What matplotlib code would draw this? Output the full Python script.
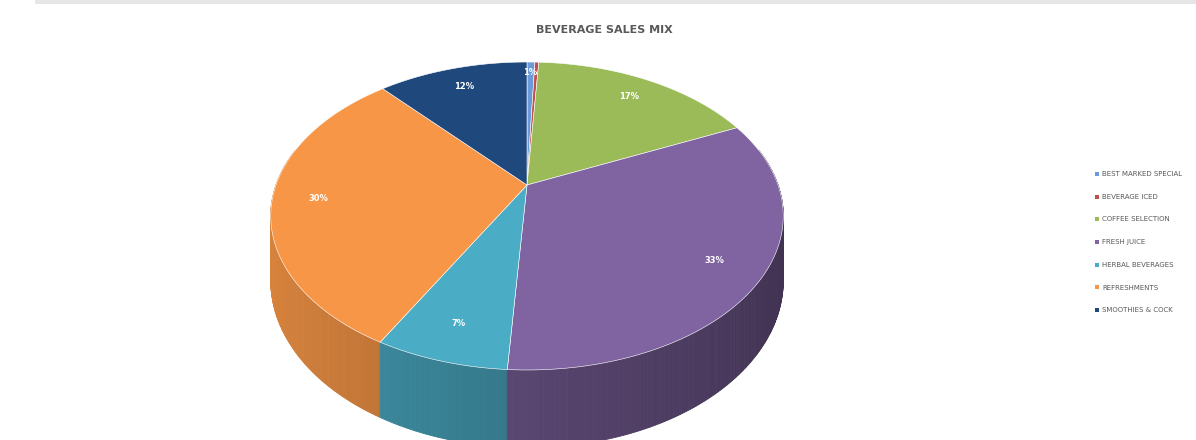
import numpy as np
import matplotlib
matplotlib.use("Agg")
import matplotlib.pyplot as plt
from matplotlib.patches import Polygon, Rectangle
from matplotlib.colors import to_rgb

# data
categories = ["BEST MARKED SPECIAL", "BEVERAGE ICED", "COFFEE SELECTION", "FRESH JUICE",
              "HERBAL BEVERAGES", "REFRESHMENTS", "SMOOTHIES & COCK"]
shares = [0.6, 0.3, 17.2, 32.9, 7.0, 30.5, 11.5]
colors = ["#6a9bd8", "#c0504d", "#9bbb59", "#8064a2", "#4bacc6", "#f79646", "#1f497d"]
title = "BEVERAGE SALES MIX"

# 3d pie geometry in pixel space (projective squash)
cx, R = 527, 251
a, b, c = 110.5, 185.0, -0.2013
depth = 62
narrow = ["Liberation Sans Narrow", "DejaVu Sans"]


def proj(theta, k=1.0):
    u = k * np.sin(theta)
    v = -k * np.cos(theta)
    den = 1 + c * v
    return cx + R * u / den, (a * v + b) / den, v


fig = plt.figure(figsize=(11.96, 4.4), dpi=100)
ax = fig.add_axes([0, 0, 1, 1])
ax.set_xlim(0, 1196)
ax.set_ylim(440, 0)
ax.axis("off")

ax.add_patch(Rectangle((35, 0), 1161, 4, color="#e6e6e6", lw=0))

vals = np.array(shares)
frac = vals / vals.sum()
edges = np.concatenate([[0], np.cumsum(frac)]) * 2 * np.pi

# side walls, drawn as thin strips shaded by position
strips = []
for i in range(len(vals)):
    th = np.linspace(edges[i], edges[i + 1], max(3, int(frac[i] * 720)))
    base = np.array(to_rgb(colors[i]))
    for t0, t1 in zip(th[:-1], th[1:]):
        x0, y0, v0 = proj(t0)
        x1, y1, v1 = proj(t1)
        if (v0 + v1) / 2 < -0.25:
            continue
        d0 = depth / (1 + c * v0)
        d1 = depth / (1 + c * v1)
        um = np.sin((t0 + t1) / 2)
        shade = 0.88 - 0.38 * (um + 1) / 2
        strips.append(((v0 + v1) / 2, [(x0, y0), (x1, y1), (x1, y1 + d1), (x0, y0 + d0)],
                       base * shade))
strips.sort(key=lambda s: s[0])
for _, pts, col in strips:
    ax.add_patch(Polygon(pts, closed=True, facecolor=col, edgecolor=col, lw=0.6))

# top face
center = proj(0, 0)[:2]
for i in range(len(vals)):
    th = np.linspace(edges[i], edges[i + 1], max(3, int(frac[i] * 720)))
    xs, ys, _ = proj(th)
    pts = [center] + list(zip(xs, ys))
    ax.add_patch(Polygon(pts, closed=True, facecolor=colors[i], edgecolor="white", lw=0.4))

# percentage labels
for i in range(len(vals)):
    pct = frac[i] * 100
    if pct < 0.5:
        continue
    mid = (edges[i] + edges[i + 1]) / 2
    k = 0.9 if frac[i] < 0.02 else 0.82
    lx, ly, _ = proj(mid, k)
    ax.text(lx, ly, f"{pct:.0f}%", color="white", fontsize=6, fontweight="bold",
            ha="center", va="center", family=narrow)

ax.text(604, 30, title, fontsize=8, fontweight="bold", color="#595959",
        ha="center", va="center", family=narrow)

# legend
for i, name in enumerate(categories):
    y = 174 + i * 22.7
    ax.scatter([1097], [y], marker="s", s=5, color=colors[i], lw=0)
    ax.text(1102, y, name, fontsize=5, color="#595959", va="center", ha="left", family=narrow)

fig.savefig("out.png", dpi=100)
